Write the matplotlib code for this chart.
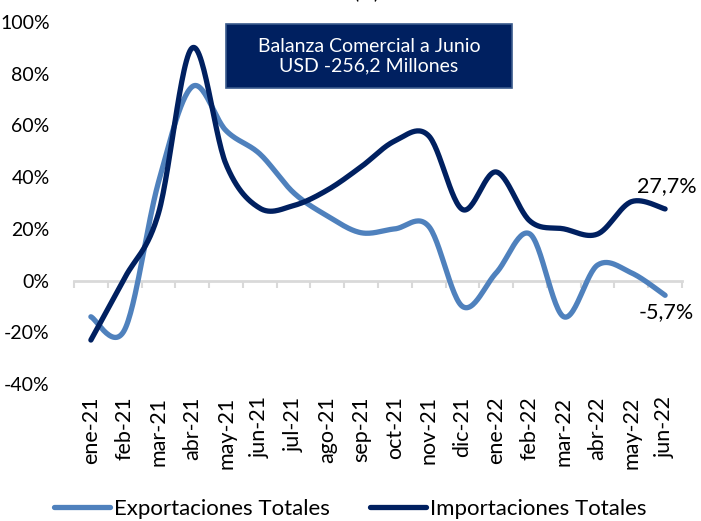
import numpy as np
import matplotlib.pyplot as plt
from matplotlib.patches import FancyBboxPatch

months = ["ene-21", "feb-21", "mar-21", "abr-21", "may-21", "jun-21", "jul-21", "ago-21", "sep-21",
          "oct-21", "nov-21", "dic-21", "ene-22", "feb-22", "mar-22", "abr-22", "may-22", "jun-22"]
exportaciones = [-14, -19, 38, 75, 58, 49, 34, 25, 18.5, 20, 21, -10, 3, 18, -14, 6, 3, -5.7]
importaciones = [-23, 1, 26, 90, 45, 28, 29, 35, 44, 54, 56, 27.5, 42, 23, 20, 18, 30.5, 27.7]
yticks = [-40, -20, 0, 20, 40, 60, 80, 100]

light = "#4F81BD"
navy = "#002060"
grey = "#D9D9D9"

plt.rcParams['font.family'] = ['Lato', 'DejaVu Sans']


def smooth(y, n=30):
    # Catmull-Rom style smoothing, like Excel's smoothed line
    y = np.asarray(y, dtype=float)
    x = np.arange(len(y), dtype=float)
    xs, ys = [], []
    for i in range(len(y) - 1):
        p0 = np.array([x[max(i - 1, 0)], y[max(i - 1, 0)]])
        p1 = np.array([x[i], y[i]])
        p2 = np.array([x[i + 1], y[i + 1]])
        p3 = np.array([x[min(i + 2, len(y) - 1)], y[min(i + 2, len(y) - 1)]])
        c1 = p1 + (p2 - p0) / 6
        c2 = p2 - (p3 - p1) / 6
        t = np.linspace(0, 1, n)[:, None]
        pts = (1 - t) ** 3 * p1 + 3 * (1 - t) ** 2 * t * c1 + 3 * (1 - t) * t ** 2 * c2 + t ** 3 * p2
        xs.append(pts[:, 0])
        ys.append(pts[:, 1])
    return np.concatenate(xs), np.concatenate(ys)


fig = plt.figure(figsize=(7.01, 5.21), dpi=100)
ax = fig.add_axes([74 / 701, 1 - 384 / 521, 608 / 701, 362 / 521])

xe, ye = smooth(exportaciones)
xi, yi = smooth(importaciones)
ax.plot(xe, ye, color=light, lw=3.8, solid_capstyle='round', label="Exportaciones Totales", zorder=3)
ax.plot(xi, yi, color=navy, lw=3.8, solid_capstyle='round', label="Importaciones Totales", zorder=4)

ax.set_xlim(-0.5, len(months) - 0.5)
ax.set_ylim(-40, 100)
ax.set_yticks(yticks)
ax.set_yticklabels([f"{v}%" for v in yticks])
ax.set_xticks(range(len(months)))
ax.set_xticklabels(months, rotation=90)
ax.tick_params(axis='x', length=0, pad=9, labelsize=15.5)
ax.tick_params(axis='y', length=0, pad=17.5, labelsize=14)
for s in ax.spines.values():
    s.set_visible(False)

# zero line with category tick marks
sec = ax.secondary_xaxis(40 / 140)
sec.set_xticks(np.arange(len(months) + 1) - 0.5)
sec.set_xticklabels([])
sec.tick_params(length=5, width=1.5, color=grey)
sec.spines['bottom'].set_color(grey)
sec.spines['bottom'].set_linewidth(2)
sec.spines['top'].set_visible(False)

# end labels
ax.annotate(f"{importaciones[-1]:.1f}%".replace('.', ','), (len(months) - 1, importaciones[-1]),
            xytext=(-20, 9), textcoords='offset points', fontsize=15.5, ha='left', va='bottom')
ax.annotate(f"{exportaciones[-1]:.1f}%".replace('.', ','), (len(months) - 1, exportaciones[-1]),
            xytext=(-19, -5), textcoords='offset points', fontsize=15.5, ha='left', va='top')

# title box
box = FancyBboxPatch((226 / 701, 1 - 88 / 521), 286 / 701, 64 / 521, boxstyle="square,pad=0",
                     transform=fig.transFigure, facecolor=navy, edgecolor="#3A5A8C", lw=1.2, zorder=5)
fig.patches.append(box)
fig.text(369 / 701, 1 - 56 / 521, "Balanza Comercial a Junio\nUSD -256,2 Millones", color='white',
         fontsize=14, ha='center', va='center', linespacing=1.15, zorder=6)

# cut-off heading at the very top
fig.text(366 / 701, 1 + 2 / 521, "(%)", fontsize=14, ha='center', va='baseline')

fig.legend(loc='lower center', bbox_to_anchor=(0.5, -0.035), ncol=2, frameon=False, fontsize=16,
           handlelength=2.5, columnspacing=1.8, handletextpad=0.2)

fig.savefig("out.png", dpi=100)
